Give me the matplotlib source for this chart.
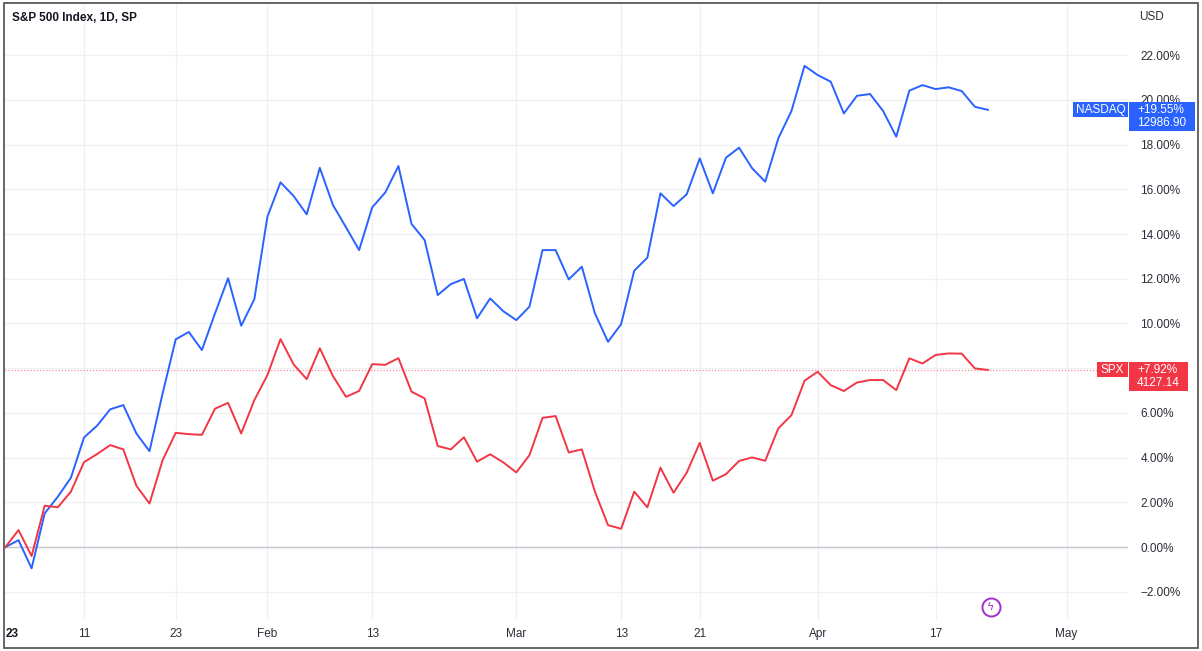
import matplotlib
matplotlib.use("Agg")
import matplotlib.pyplot as plt
from matplotlib.patches import Rectangle
from matplotlib.transforms import IdentityTransform

# Trading-day index 0 = Jan 3 2023 ... 75 = Apr 21 2023, % change vs first close
nasdaq_pct = [0.00, 0.31, -0.95, 1.51, 2.25, 3.10, 4.90, 5.43, 6.16, 6.35,
              5.08, 4.29, 6.87, 9.29, 9.62, 8.81, 10.45, 12.02, 9.90, 11.08,
              14.77, 16.31, 15.70, 14.88, 16.96, 15.30, 14.30, 13.28, 15.19, 15.86,
              17.04, 14.45, 13.73, 11.27, 11.76, 11.99, 10.23, 11.12, 10.55, 10.15,
              10.75, 13.28, 13.28, 11.97, 12.54, 10.45, 9.18, 9.97, 12.36, 12.94,
              15.82, 15.25, 15.77, 17.38, 15.82, 17.41, 17.86, 16.94, 16.34, 18.28,
              19.50, 21.52, 21.11, 20.81, 19.39, 20.18, 20.26, 19.50, 18.35, 20.41,
              20.66, 20.48, 20.56, 20.39, 19.69, 19.55]
spx_pct = [0.00, 0.76, -0.40, 1.85, 1.78, 2.48, 3.80, 4.16, 4.56, 4.37,
           2.74, 1.95, 3.89, 5.11, 5.05, 5.02, 6.19, 6.45, 5.08, 6.57,
           7.69, 9.30, 8.17, 7.51, 8.89, 7.65, 6.72, 6.98, 8.18, 8.15,
           8.45, 6.95, 6.65, 4.52, 4.37, 4.91, 3.82, 4.15, 3.79, 3.34,
           4.11, 5.78, 5.86, 4.23, 4.37, 2.48, 0.98, 0.82, 2.48, 1.78,
           3.55, 2.43, 3.32, 4.66, 2.97, 3.26, 3.85, 4.01, 3.86, 5.31,
           5.90, 7.44, 7.84, 7.24, 6.98, 7.36, 7.47, 7.47, 7.02, 8.44,
           8.21, 8.59, 8.66, 8.65, 7.99, 7.92]
days = list(range(len(spx_pct)))

series_names = ['NASDAQ', 'SPX']
last_prices = ['12986.90', '4127.14']

tick_days = [0, 6, 13, 20, 28, 39, 47, 53, 62, 71, 81]
tick_labels = ['23', '11', '23', 'Feb', '13', 'Mar', '13', '21', 'Apr', '17', 'May']
pct_ticks = [-2, 0, 2, 4, 6, 8, 10, 12, 14, 16, 18, 20, 22]

BLUE = '#2962FF'
RED = '#F23645'
TEXT = '#2a2e39'
GRID = '#f0f1f5'

plt.rcParams['font.family'] = ['Liberation Sans', 'DejaVu Sans']

W, H = 1202, 651
fig = plt.figure(figsize=(W / 100, H / 100), dpi=100)
fig.patch.set_facecolor('white')
ax = fig.add_axes([5 / W, 31 / H, 1123 / W, 617 / H])
ax.set_facecolor('white')

ax.set_xlim(-0.03, 85.69)
ax.set_ylim(-3.26, 24.33)

# grid
for d in tick_days[1:]:
    ax.axvline(d, color=GRID, lw=1, zorder=0)
for p in pct_ticks:
    ax.axhline(p, color=GRID, lw=1, zorder=0)
ax.axhline(0, color='#c5c7d0', lw=1, zorder=1)

# last value line for SPX
ax.axhline(spx_pct[-1], color=RED, lw=0.9, ls=(0, (1, 1.5)), alpha=0.55, zorder=1)

ax.plot(days, nasdaq_pct, color=BLUE, lw=1.4, zorder=3)
ax.plot(days, spx_pct, color=RED, lw=1.4, zorder=3)

# axes
for s in ax.spines.values():
    s.set_visible(False)
ax.set_xticks(tick_days)
ax.set_xticklabels(tick_labels)
ax.tick_params(axis='x', length=0, pad=6, labelsize=8.5, labelcolor=TEXT)
xl = ax.get_xticklabels()
xl[0].set_fontweight('bold')
xl[0].set_ha('left')
xl[0].set_color('#131722')

ax.yaxis.tick_right()
ax.set_yticks(pct_ticks)
ax.set_yticklabels([f'{p:.2f}%'.replace('-', '\u2212') for p in pct_ticks])
ax.tick_params(axis='y', length=0, pad=9, labelsize=8.5, labelcolor=TEXT)
# the SPX price tag sits on top of the 8% label in the original
for lab, p in zip(ax.get_yticklabels(), pct_ticks):
    if p == 8:
        lab.set_visible(False)

# title and currency
fig.text(12 / W, 1 - 18 / H, 'S&P 500 Index, 1D, SP', fontsize=8.5,
         fontweight='bold', color='#131722', va='center')
fig.text(1139 / W, 1 - 17 / H, 'USD', fontsize=8.5, color=TEXT, va='center')

# price tags on the right
fig.canvas.draw()
ident = IdentityTransform()
right = ax.transAxes.transform((1, 0))[0]
tag_specs = [(nasdaq_pct[-1], BLUE, 55, 66), (spx_pct[-1], RED, 31, 59)]
for (val, col, nw, vw), name, price in zip(tag_specs, series_names, last_prices):
    yc = ax.transData.transform((0, val))[1]
    fig.add_artist(Rectangle((right - nw, yc - 7.5), nw, 15.5, transform=ident,
                             fc=col, ec='none', zorder=5))
    fig.add_artist(Rectangle((right + 1, yc - 20.8), vw, 28.7, transform=ident,
                             fc=col, ec='none', zorder=5))
    fig.text(right - nw / 2, yc, name, transform=ident, fontsize=8.5,
             color='white', ha='center', va='center', zorder=6)
    fig.text(right + 9, yc, f'+{val:.2f}%', transform=ident, fontsize=8.5,
             color='white', ha='left', va='center', zorder=6)
    fig.text(right + 9, yc - 13, price, transform=ident, fontsize=8.5,
             color='white', ha='left', va='center', zorder=6)

# lightning icon
ax.plot([0.878], [0.021], marker='o', ms=13, mfc='white', mec='#a42dcc',
        mew=1.4, transform=ax.transAxes, clip_on=False, zorder=6)
ax.text(0.878, 0.021, '\u03df', transform=ax.transAxes, fontsize=8,
        color='#a42dcc', ha='center', va='center', family=['DejaVu Sans'], zorder=7)

# screenshot frame
fig.add_artist(Rectangle((0.003, 0.004), 0.994, 0.991, transform=fig.transFigure,
                         fill=False, ec='#5a5a5a', lw=1.3, zorder=10))

fig.savefig('out.png', dpi=100, facecolor='white')
